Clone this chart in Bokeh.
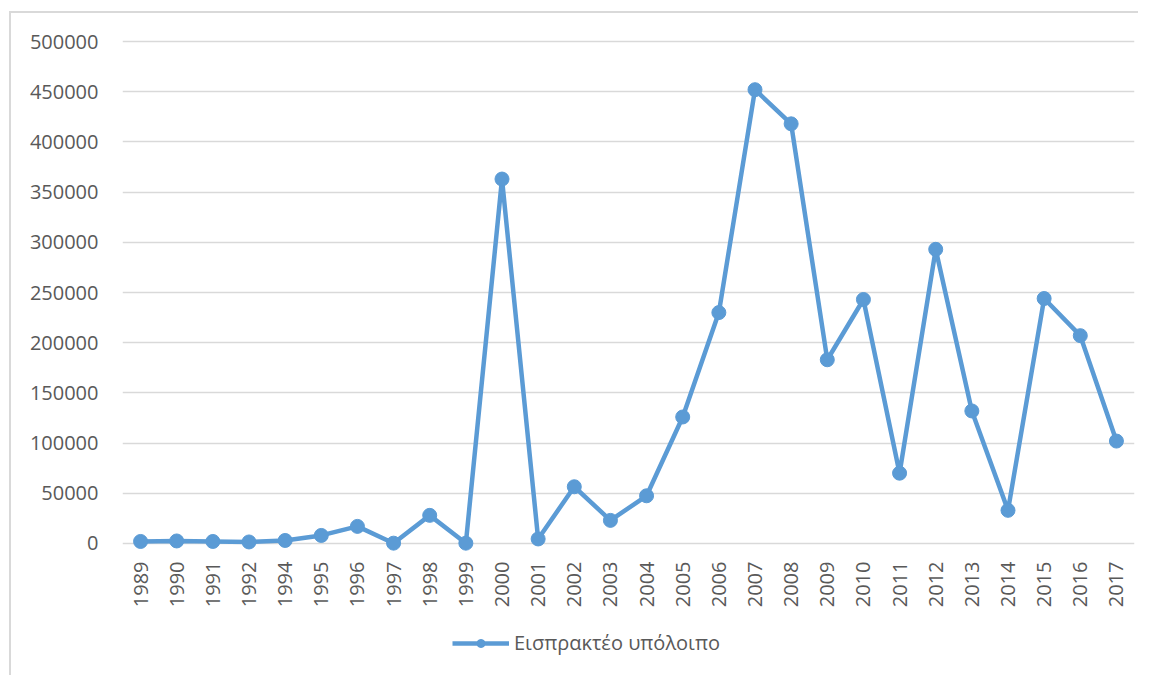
from bokeh.plotting import figure
from bokeh.layouts import column
from bokeh.models import (FactorRange, Range1d, FixedTicker, BasicTickFormatter,
                          Legend, LegendItem, ColumnDataSource)
from bokeh.embed import file_html
from bokeh.resources import INLINE
import math

years = ["1989", "1990", "1991", "1992", "1994", "1995", "1996", "1997", "1998",
         "1999", "2000", "2001", "2002", "2003", "2004", "2005", "2006", "2007",
         "2008", "2009", "2010", "2011", "2012", "2013", "2014", "2015", "2016",
         "2017"]
values = [2000, 2500, 2000, 1500, 3000, 8000, 17000, 300, 28000,
          300, 363000, 4500, 56500, 23000, 47500, 126000, 230000, 452000,
          418000, 183000, 243000, 70000, 293000, 132000, 33000, 244000, 207000,
          102000]
y_ticks = list(range(0, 500001, 50000))
series_name = "Εισπρακτέο υπόλοιπο"

COLOR = "#5b9bd5"
TEXT = "#595959"
GRID = "#d9d9d9"
FONT = "Open Sans"

source = ColumnDataSource(dict(x=years, y=values))

p = figure(frame_width=1010, frame_height=516,
           x_range=FactorRange(*years, range_padding=0),
           y_range=Range1d(-8000, 508000),
           output_backend="svg", toolbar_location=None,
           min_border_left=111, min_border_right=6,
           min_border_top=20, min_border_bottom=70)
p.margin = (11, 0, 0, 9)
p.styles = {"border-top": "2px solid #d9d9d9", "border-left": "2px solid #d9d9d9"}
p.outline_line_color = None
p.background_fill_color = "white"
p.border_fill_color = "white"

p.xgrid.grid_line_color = None
p.ygrid.grid_line_color = GRID
p.ygrid.grid_line_width = 1.5
p.ygrid.ticker = FixedTicker(ticks=y_ticks)

p.yaxis.ticker = FixedTicker(ticks=y_ticks)
p.yaxis.formatter = BasicTickFormatter(use_scientific=False)
p.yaxis.axis_line_color = None
p.yaxis.major_tick_line_color = None
p.yaxis.minor_tick_line_color = None
p.yaxis.major_label_text_font = FONT
p.yaxis.major_label_text_font_size = "20px"
p.yaxis.major_label_text_color = TEXT
p.yaxis.major_label_standoff = 18

p.xaxis.axis_line_color = None
p.xaxis.major_tick_line_color = None
p.xaxis.minor_tick_line_color = None
p.xaxis.major_label_orientation = math.pi / 2
p.xaxis.major_label_text_font = FONT
p.xaxis.major_label_text_font_size = "20px"
p.xaxis.major_label_text_color = TEXT
p.xaxis.major_label_standoff = 4

p.line("x", "y", source=source, line_color=COLOR, line_width=4.5,
       line_join="round")
p.scatter("x", "y", source=source, size=14, fill_color=COLOR, line_color=COLOR)

# legend strip below the chart (its sample renderers sit outside the visible range)
lf = figure(width=1128, height=56, x_range=Range1d(0, 1), y_range=Range1d(0, 1),
            x_axis_type=None, y_axis_type=None, output_backend="svg",
            toolbar_location=None, min_border=0)
lf.margin = (0, 0, 0, 9)
lf.styles = {"border-left": "2px solid #d9d9d9"}
lf.outline_line_color = None
lf.grid.visible = False
leg_src = ColumnDataSource(dict(x=[-5, -4], y=[-5, -4]))
l_line = lf.line("x", "y", source=leg_src, line_color=COLOR, line_width=4.5)
l_circ = lf.scatter("x", "y", source=leg_src, size=14, fill_color=COLOR,
                    line_color=COLOR)
legend = Legend(items=[LegendItem(label=series_name, renderers=[l_line, l_circ])],
                location=(330, 19), orientation="horizontal",
                label_text_font=FONT, label_text_font_size="20px",
                label_text_color=TEXT, glyph_width=57, glyph_height=20,
                label_standoff=5, padding=10, margin=0,
                border_line_color=None, background_fill_alpha=0)
lf.add_layout(legend)

layout = column(p, lf, spacing=0)
open("out.html", "w").write(file_html(layout, INLINE))
